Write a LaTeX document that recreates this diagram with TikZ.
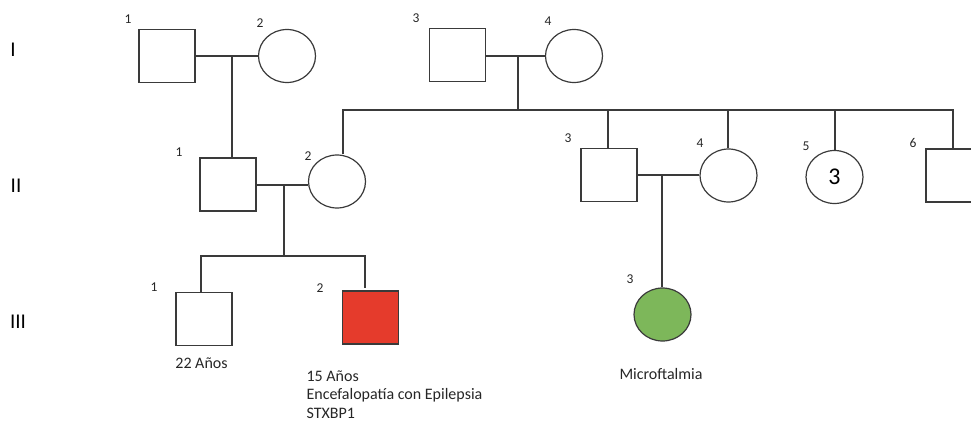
\documentclass[tikz,border=0pt]{standalone}
\usepackage{fontspec}
\setmainfont{Carlito}
\setsansfont{Carlito}
\usetikzlibrary{shapes.geometric}
\definecolor{affred}{HTML}{E53B2C}
\definecolor{affgreen}{HTML}{7DB75A}
\definecolor{linegray}{HTML}{3A3A3A}
\begin{document}
\begin{tikzpicture}[x=1pt,y=-1pt,
  line width=1.2pt,
  conn/.style={draw=linegray,line width=1.2pt},
  male/.style={rectangle,draw=linegray,line width=1.2pt,minimum width=56pt,minimum height=53pt,inner sep=0pt},
  female/.style={ellipse,draw=linegray,line width=1.2pt,minimum width=57pt,minimum height=53pt,inner sep=0pt},
  num/.style={font=\fontsize{13.5}{15}\selectfont,inner sep=0pt,text=black!85},
  gen/.style={font=\fontsize{21}{23}\selectfont,inner sep=0pt},
  txt/.style={font=\fontsize{16}{18.5}\selectfont,inner sep=0pt,text=black!85}]
\useasboundingbox (0,0) rectangle (971,423);
\clip (0,0) rectangle (971,423);
% generation labels
\node[gen] (gI) at (13,50) {I};
\node[gen] (gII) at (16,186) {II};
\node[gen] (gIII) at (18,322) {III};
% generation I
\node[male] (I1) at (167,56) {};
\node[female] (I2) at (287,56) {};
\node[male] (I3) at (457.5,55) {};
\node[female] (I4) at (574,56) {};
% generation II
\node[male] (II1) at (228,184.5) {};
\node[female] (II2) at (337,181.5) {};
\node[male] (II3) at (609,175) {};
\node[female] (II4) at (728.5,175.5) {};
\node[female,font=\fontsize{24}{26}\selectfont] (II5) at (834.5,177) {3};
\node[male] (II6) at (954,175.5) {};
% generation III
\node[male] (III1) at (204,319) {};
\node[male,fill=affred] (III2) at (370.5,317.5) {};
\node[female,fill=affgreen] (III3) at (662.5,314.5) {};
% numbers
\node[num] (nI1) at (128,19.5) {1};
\node[num] (nI2) at (260,23) {2};
\node[num] (nI3) at (416,18) {3};
\node[num] (nI4) at (548,21) {4};
\node[num] (nII1) at (179,152) {1};
\node[num] (nII2) at (308,156) {2};
\node[num] (nII3) at (568,138) {3};
\node[num] (nII4) at (700,143) {4};
\node[num] (nII5) at (806,146) {5};
\node[num] (nII6) at (913,143) {6};
\node[num] (nIII1) at (154,287) {1};
\node[num] (nIII2) at (320,288) {2};
\node[num] (nIII3) at (630,279) {3};
% texts
\node[txt,anchor=base] (t1) at (201.5,368) {22 Años};
\node[txt,anchor=base west,align=left] (t2) at (306,418) {15 Años\\Encefalopatía con Epilepsia\\STXBP1};
\node[txt,anchor=base] (t3) at (661,379) {Microftalmia};
% marriages
\coordinate (m1) at (232,56);
\coordinate (m2) at (518,56);
\coordinate (m3) at (284,185);
\coordinate (m4) at (662,175);
\draw[conn] (I1.east |- m1) -- (I2.west |- m1);
\draw[conn] (I3.east |- m2) -- (I4.west |- m2);
\draw[conn] (II1.east |- m3) -- (II2.west |- m3);
\draw[conn] (II3.east |- m4) -- (II4.west |- m4);
% descent I-1 x I-2
\draw[conn] (m1) -- (m1 |- II1.north);
% sibship of I-3 x I-4
\coordinate (s1) at (343,110);
\coordinate (s2) at (953,110);
\draw[conn] (m2) -- (m2 |- s1);
\draw[conn] (s1 |- II2.north) -- (s1) -- (s2) -- (s2 |- II6.north);
\coordinate (d3) at (608,110);
\coordinate (d4) at (728,110);
\coordinate (d5) at (835,110);
\draw[conn] (d3) -- (d3 |- II3.north);
\draw[conn] (d4) -- (d4 |- II4.north);
\draw[conn] (d5) -- (d5 |- II5.north);
% sibship of II-1 x II-2
\coordinate (s3) at (201,256);
\coordinate (s4) at (365,256);
\draw[conn] (m3) -- (m3 |- s3);
\draw[conn] (s3 |- III1.north) -- (s3) -- (s4) -- (365,288);
% descent II-3 x II-4
\draw[conn] (m4) -- (m4 |- III3.north);
\end{tikzpicture}
\end{document}
